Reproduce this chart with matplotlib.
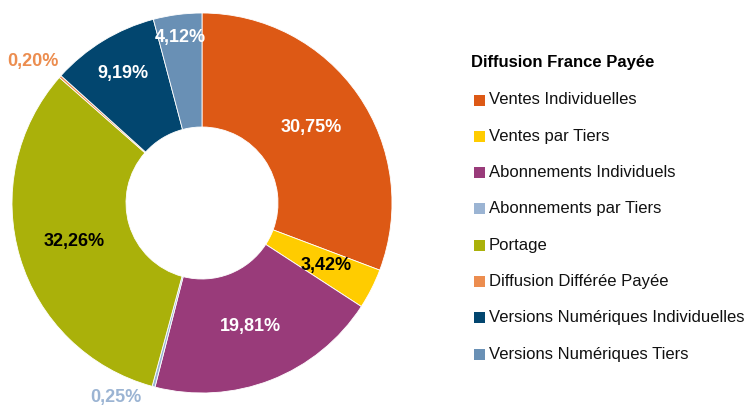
import numpy as np
import matplotlib
matplotlib.use("Agg")
import matplotlib.pyplot as plt
from matplotlib.patches import Rectangle

categories = ["Ventes Individuelles", "Ventes par Tiers", "Abonnements Individuels",
              "Abonnements par Tiers", "Portage", "Diffusion Différée Payée",
              "Versions Numériques Individuelles", "Versions Numériques Tiers"]
values = [30.75, 3.42, 19.81, 0.25, 32.26, 0.20, 9.19, 4.12]
colors = ["#DD5915", "#FFCC00", "#993B7A", "#9BB4D3", "#AAB10A", "#EC8D4F", "#02466F", "#6990B5"]
label_colors = ["white", "black", "white", "#9BB4D3", "black", "#EC8D4F", "white", "white"]
legend_title = "Diffusion France Payée"

# label placement (radius as fraction of outer radius, angular tweak in degrees)
label_r = [0.70, 0.73, 0.70, 1.12, 0.70, 1.16, 0.80, 0.88]
label_dang = [0, 0, 0, -9, 0, 1.7, 0, 0]

FONT = ["Liberation Sans Narrow", "Liberation Sans", "DejaVu Sans"]
plt.rcParams["font.family"] = FONT

W, H = 752, 405
fig = plt.figure(figsize=(W / 100, H / 100), dpi=100)
cx, cy, R = 202, 203, 190
ax = fig.add_axes([(cx - R) / W, (H - cy - R) / H, 2 * R / W, 2 * R / H])
ax.set_axis_off()

wedges, _ = ax.pie(values, colors=colors, startangle=90, counterclock=False, radius=1.0,
                   wedgeprops=dict(width=0.6, edgecolor="white", linewidth=0.6))
ax.set_xlim(-1, 1)
ax.set_ylim(-1, 1)
ax.set_aspect("equal")

for w, v, lc, r, da in zip(wedges, values, label_colors, label_r, label_dang):
    ang = np.deg2rad((w.theta1 + w.theta2) / 2 + da)
    txt = f"{v:.2f}%".replace(".", ",")
    ax.text(r * np.cos(ang), r * np.sin(ang), txt, ha="center", va="center",
            color=lc, fontsize=13, fontweight="bold", clip_on=False)

# legend (drawn in pixel coordinates of the figure)
def fx(px):
    return px / W

def fy(py):
    return 1 - py / H

fig.text(fx(471), fy(62), legend_title, ha="left", va="center", fontsize=12,
         fontweight="bold", color="black")
y0, dy = 100, 36.3
for i, (lab, col) in enumerate(zip(categories, colors)):
    yc = y0 + i * dy
    fig.patches.append(Rectangle((fx(474), fy(yc + 5.5)), 11 / W, 11 / H,
                                 transform=fig.transFigure, facecolor=col,
                                 edgecolor="none", figure=fig))
    fig.text(fx(489), fy(yc), lab, ha="left", va="center", fontsize=12, color="#111111")

fig.savefig("out.png", dpi=100)
